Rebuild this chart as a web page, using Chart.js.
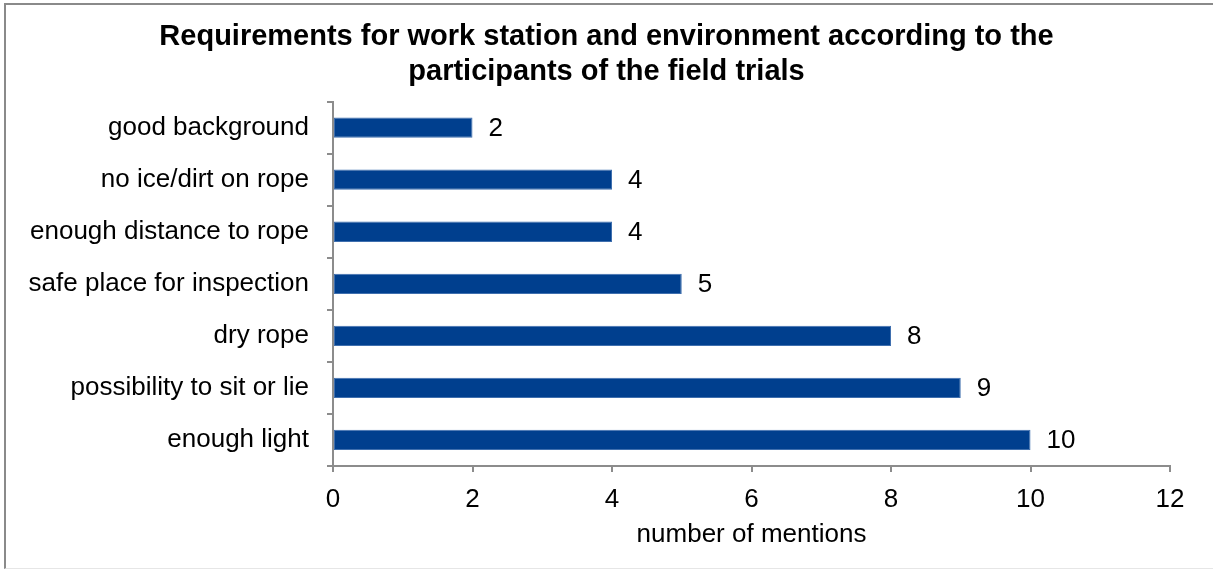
<!DOCTYPE html>
<html>
<head>
<meta charset="utf-8">
<script src="https://cdn.jsdelivr.net/npm/chart.js@4/dist/chart.umd.min.js"></script>
<style>
  html, body { margin: 0; padding: 0; background: #fff; }
  #wrap { position: relative; width: 1213px; height: 570px; overflow: hidden; }
  #frame { position: absolute; left: 4px; top: 3px; width: 1215px; height: 566px;
           border: 2px solid #8a8a8a; border-bottom: 1px solid #e6e6e6;
           box-sizing: border-box; pointer-events: none; }
</style>
</head>
<body>
<div id="wrap">
  <canvas id="chart" width="1213" height="570"></canvas>
  <div id="frame"></div>
</div>
<script>
// Categories and counts, listed top to bottom
const categories = [
  'good background',
  'no ice/dirt on rope',
  'enough distance to rope',
  'safe place for inspection',
  'dry rope',
  'possibility to sit or lie',
  'enough light'
];
const mentions = [2, 4, 4, 5, 8, 9, 10];
const xTicks = [0, 2, 4, 6, 8, 10, 12];

const FONT = 'Liberation Sans, Arial, sans-serif';

// Writes the count just right of each bar
const valueLabels = {
  id: 'valueLabels',
  afterDatasetsDraw(chart) {
    const ctx = chart.ctx;
    const meta = chart.getDatasetMeta(0);
    ctx.save();
    ctx.font = '26px ' + FONT;
    ctx.fillStyle = '#000';
    ctx.textAlign = 'left';
    ctx.textBaseline = 'middle';
    meta.data.forEach((bar, i) => {
      ctx.fillText(String(mentions[i]), bar.x + 16, bar.y + 1);
    });
    ctx.restore();
  }
};

new Chart(document.getElementById('chart'), {
  type: 'bar',
  data: {
    labels: categories,
    datasets: [{
      data: mentions,
      backgroundColor: '#003f8e',
      borderColor: '#3f6fae',
      borderWidth: 1,
      borderSkipped: false,
      categoryPercentage: 1,
      barPercentage: 0.39
    }]
  },
  options: {
    indexAxis: 'y',
    responsive: false,
    animation: false,
    layout: { padding: { left: 0, right: 0, top: 0, bottom: 20 } },
    plugins: {
      legend: { display: false },
      tooltip: { enabled: false },
      title: {
        display: true,
        text: ['Requirements for work station and environment according to the',
               'participants of the field trials'],
        color: '#000',
        font: { family: FONT, size: 29, weight: 'bold', lineHeight: 1.2 },
        padding: { top: 20, bottom: 12 }
      }
    },
    scales: {
      x: {
        min: 0,
        max: 12,
        afterBuildTicks(scale) {
          scale.ticks = xTicks.map(v => ({ value: v }));
        },
        afterFit(scale) {
          scale.height = 84;
          scale.paddingRight = 43;
        },
        border: { display: true, color: '#8c8c8c', width: 2 },
        grid: { drawOnChartArea: false, drawTicks: true, tickLength: 6, color: '#8c8c8c', lineWidth: 2 },
        ticks: { color: '#000', font: { family: FONT, size: 26 }, padding: 12, maxRotation: 0 },
        title: {
          display: true,
          text: 'number of mentions',
          color: '#000',
          font: { family: FONT, size: 26 },
          padding: { top: 4, bottom: 0 }
        }
      },
      y: {
        afterFit(scale) { scale.width = 333; },
        border: { display: true, color: '#8c8c8c', width: 2 },
        grid: { offset: true, drawOnChartArea: false, drawTicks: true, tickLength: 6, color: '#8c8c8c', lineWidth: 2 },
        ticks: { color: '#000', font: { family: FONT, size: 26 }, padding: 18 }
      }
    }
  },
  plugins: [valueLabels]
});
</script>
</body>
</html>
